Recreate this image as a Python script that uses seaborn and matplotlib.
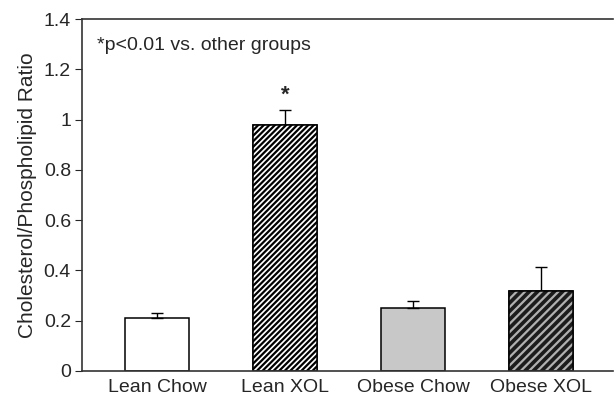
import matplotlib
matplotlib.use("Agg")
import matplotlib.pyplot as plt
import seaborn as sns
import pandas as pd

groups = ["Lean Chow", "Lean XOL", "Obese Chow", "Obese XOL"]
ratio = [0.211, 0.977, 0.249, 0.318]
sem = [0.021, 0.062, 0.031, 0.094]

sns.set_style("ticks")
plt.rcParams['font.family'] = ['Liberation Sans', 'DejaVu Sans']
plt.rcParams['hatch.linewidth'] = 1.6

df = pd.DataFrame({"group": groups, "ratio": ratio})

fig = plt.figure(figsize=(6.14, 3.95), dpi=100)
ax = fig.add_axes([0.1336, 0.0608, 0.8648, 0.891])

sns.barplot(x="group", y="ratio", data=df, ax=ax, width=0.5,
            errorbar=None, color="white", edgecolor="black", linewidth=1.1)

#face, hatch colour for each bar
styles = [("white", None, "black"),
          ("white", "//////", "black"),
          ("#c8c8c8", None, "black"),
          ("#1c1c1c", "////", "#b0b0b0")]
for p, (fc, h, hc) in zip(ax.patches, styles):
    p.set_facecolor(fc)
    if h:
        # hatch layer drawn in the hatch colour, outline drawn on top
        x0, w, hgt = p.get_x(), p.get_width(), p.get_height()
        ax.bar(x0, hgt, width=w, align="edge", facecolor=fc, edgecolor=hc,
               hatch=h, linewidth=0, zorder=p.get_zorder() + 0.1)
        ax.bar(x0, hgt, width=w, align="edge", facecolor="none",
               edgecolor="black", linewidth=1.1, zorder=p.get_zorder() + 0.2)

ax.errorbar(range(len(groups)), ratio, yerr=[[0] * len(sem), sem], fmt="none",
            ecolor="black", elinewidth=1.0, capsize=4.3, capthick=1.0, zorder=1)

ax.text(1, ratio[1] + sem[1] + 0.015, "*", ha="center", va="bottom",
        fontsize=16, fontweight="bold")
ax.text(0.028, 0.95, "*p<0.01 vs. other groups", transform=ax.transAxes,
        ha="left", va="top", fontsize=14)

ax.set_ylim(0, 1.4)
ax.set_xlim(-0.586, 3.56)
ax.set_yticks([0, 0.2, 0.4, 0.6, 0.8, 1, 1.2, 1.4])
ax.set_yticklabels(["0", "0.2", "0.4", "0.6", "0.8", "1", "1.2", "1.4"])
ax.set_xlabel("")
ax.set_ylabel("Cholesterol/Phospholipid Ratio", fontsize=15, labelpad=5)
ax.tick_params(axis="y", direction="out", length=5, labelsize=14, pad=3)
ax.tick_params(axis="x", length=0, labelsize=14, pad=6)
for s in ["top", "left", "bottom"]:
    ax.spines[s].set_linewidth(1.2)
    ax.spines[s].set_color("#333333")
ax.spines["right"].set_visible(False)

fig.savefig("out.png", dpi=100)
